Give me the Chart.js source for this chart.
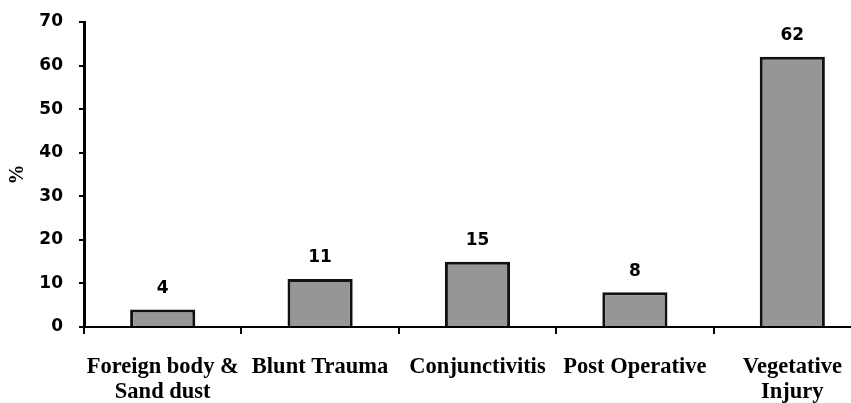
<!DOCTYPE html>
<html>
<head>
<meta charset="utf-8">
<script src="https://cdn.jsdelivr.net/npm/chart.js@4/dist/chart.umd.min.js"></script>
<style>
  html, body { margin: 0; padding: 0; background: #fff; overflow: hidden; }
  #wrap { width: 851px; height: 403px; overflow: hidden; }
  canvas { display: block; }
</style>
</head>
<body>
<div id="wrap"><canvas id="c" width="900" height="403"></canvas></div>
<script>
// Eye injury causes (percent of cases)
const categories = [
  ['Foreign body &', 'Sand dust'],
  'Blunt Trauma',
  'Conjunctivitis',
  'Post Operative',
  ['Vegetative', 'Injury']
];
const percentages = [4, 11, 15, 8, 62];
const yTicks = [0, 10, 20, 30, 40, 50, 60, 70];

const numberFont = { family: 'DejaVu Sans', size: 17, weight: 'bold' };
const labelFont = { family: 'Liberation Serif', size: 22.5, weight: 'bold', lineHeight: '25px' };

// Writes each bar's value above it
const valueLabels = {
  id: 'valueLabels',
  afterDatasetsDraw(chart) {
    const ctx = chart.ctx;
    const meta = chart.getDatasetMeta(0);
    ctx.save();
    ctx.font = 'bold 17px "DejaVu Sans"';
    ctx.fillStyle = '#000';
    ctx.textAlign = 'center';
    ctx.textBaseline = 'middle';
    meta.data.forEach((bar, i) => {
      ctx.fillText(String(chart.data.datasets[0].data[i]), bar.x, bar.y - 21);
    });
    ctx.restore();
  }
};

new Chart(document.getElementById('c'), {
  type: 'bar',
  data: {
    labels: categories,
    datasets: [{
      data: percentages,
      backgroundColor: '#969696',
      borderColor: '#111',
      borderWidth: 3,
      borderSkipped: 'start',
      categoryPercentage: 1,
      barPercentage: 0.414
    }]
  },
  options: {
    responsive: false,
    animation: false,
    devicePixelRatio: 1,
    layout: { padding: { top: 22, right: 29, left: 0, bottom: 0 } },
    plugins: {
      legend: { display: false },
      tooltip: { enabled: false }
    },
    scales: {
      x: {
        grid: {
          drawOnChartArea: false,
          drawTicks: true,
          tickLength: 7,
          color: '#000',
          lineWidth: 2,
          offset: true
        },
        border: { display: true, color: '#000', width: 2 },
        ticks: {
          color: '#000',
          font: labelFont,
          padding: 21,
          maxRotation: 0,
          minRotation: 0,
          autoSkip: false
        },
        afterFit(scale) { scale.height = 76; }
      },
      y: {
        min: 0,
        max: 70,
        afterBuildTicks(scale) { scale.ticks = yTicks.map(v => ({ value: v })); },
        grid: {
          drawOnChartArea: false,
          drawTicks: true,
          tickLength: 5,
          color: '#000',
          lineWidth: 2
        },
        border: { display: true, color: '#000', width: 3 },
        ticks: {
          color: '#000',
          font: numberFont,
          padding: 16
        },
        title: {
          display: true,
          text: '%',
          color: '#000',
          font: { family: 'Liberation Serif', size: 20, weight: 'bold' },
          padding: { top: 6, bottom: 0 }
        },
        afterFit(scale) {
          scale.width = 84;
          scale.paddingTop = 0;
          scale.paddingBottom = 0;
        }
      }
    }
  },
  plugins: [valueLabels]
});
</script>
</body>
</html>
